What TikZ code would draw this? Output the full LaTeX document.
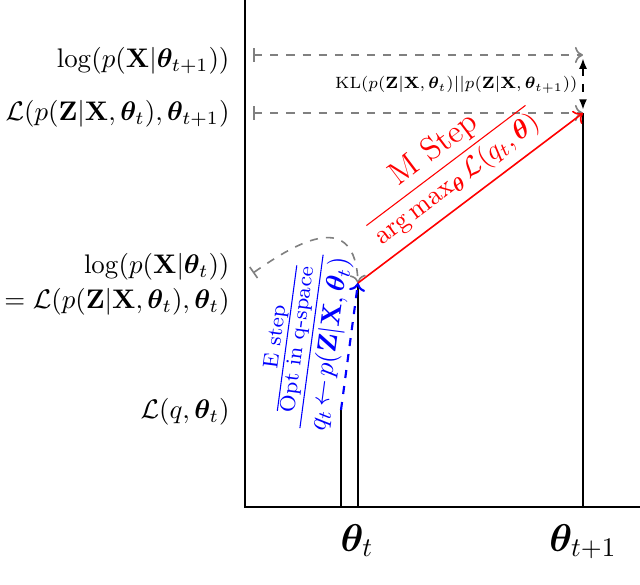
\documentclass[tikz,border=0pt]{standalone}
\usepackage{amsmath,amssymb,bm}
\usetikzlibrary{arrows.meta}
\begin{document}
\begin{tikzpicture}[x=0.01307cm,y=-0.01307cm,
  lab/.style={anchor=base east, inner sep=0pt},
  axisline/.style={line width=0.8pt, black},
  guide/.style={gray, dashed, semithick, {Bar[width=5pt]}-{To[length=3pt,width=6pt]}},
  tick/.style={anchor=base, inner sep=0pt, font=\Large}]
\useasboundingbox (0,0) rectangle (640,585);
% points
\coordinate (ytop) at (245,0);
\coordinate (O) at (245,507);
\coordinate (xend) at (640,507);
\coordinate (qb) at (341,507);
\coordinate (qt) at (341,410);
\coordinate (tb) at (358,507);
\coordinate (tt) at (358,283);
\coordinate (nb) at (583,507);
\coordinate (nt) at (583,113);
\coordinate (g1s) at (253,55);
\coordinate (g1e) at (583,55);
\coordinate (g2s) at (253,113);
\coordinate (g3s) at (253,273);
\coordinate (k1) at (583,58);
\coordinate (k2) at (583,110);
% axes and bars
\draw[axisline] (ytop) -- (O) -- (xend);
\draw[axisline] (qb) -- (qt);
\draw[axisline] (tb) -- (tt);
\draw[axisline] (nb) -- (nt);
% guides
\draw[guide] (g1s) -- (g1e);
\draw[guide] (g2s) -- (nt);
\draw[guide] (g3s) .. controls (300,240) and (355,210) .. (tt);
\draw[thick, dashed, {Latex[length=4pt]}-{Latex[length=4pt]}] (k1) -- (k2);
% E step
\draw[blue, thick, dashed, -{To[length=3pt,width=6pt]}] (qt) -- node[above, sloped, text=blue, inner sep=2pt] (estep)
  {$\dfrac{\frac{\mbox{\footnotesize E step}}{\mbox{\footnotesize Opt in q-space}}}{q_t\!\leftarrow\! p(\mathbf{Z}|\mathbf{X},\bm\theta_t)}$} (tt);
% M step
\draw[red, semithick, -{To[length=3pt,width=6pt]}] (tt) -- node[above, sloped, text=red, inner sep=3pt] (mstep)
  {$\dfrac{\text{\large M Step}}{\arg\max\nolimits_{\bm\theta}\mathcal{L}(q_t,\bm\theta)}$} (nt);
% KL
\node[anchor=east, inner sep=0pt, font=\scriptsize, scale=0.87] (kl) at (578,85)
  {$\mathrm{KL}(p(\mathbf{Z}|\mathbf{X},\bm\theta_t)||p(\mathbf{Z}|\mathbf{X},\bm\theta_{t+1}))$};
% left labels
\node[lab] (l1) at (230,67) {$\log(p(\mathbf{X}|\bm\theta_{t+1}))$};
\node[lab] (l2) at (230,120) {$\mathcal{L}(p(\mathbf{Z}|\mathbf{X},\bm\theta_t),\bm\theta_{t+1})$};
\node[lab] (l3) at (230,273) {$\log(p(\mathbf{X}|\bm\theta_t))$};
\node[lab] (l4) at (230,308) {$=\mathcal{L}(p(\mathbf{Z}|\mathbf{X},\bm\theta_t),\bm\theta_t)$};
\node[lab] (l5) at (230,418) {$\mathcal{L}(q,\bm\theta_t)$};
% bottom ticks
\node[tick] (th1) at (357,551) {$\bm\theta_t$};
\node[tick] (th2) at (583,551) {$\bm\theta_{t+1}$};
\end{tikzpicture}
\end{document}
